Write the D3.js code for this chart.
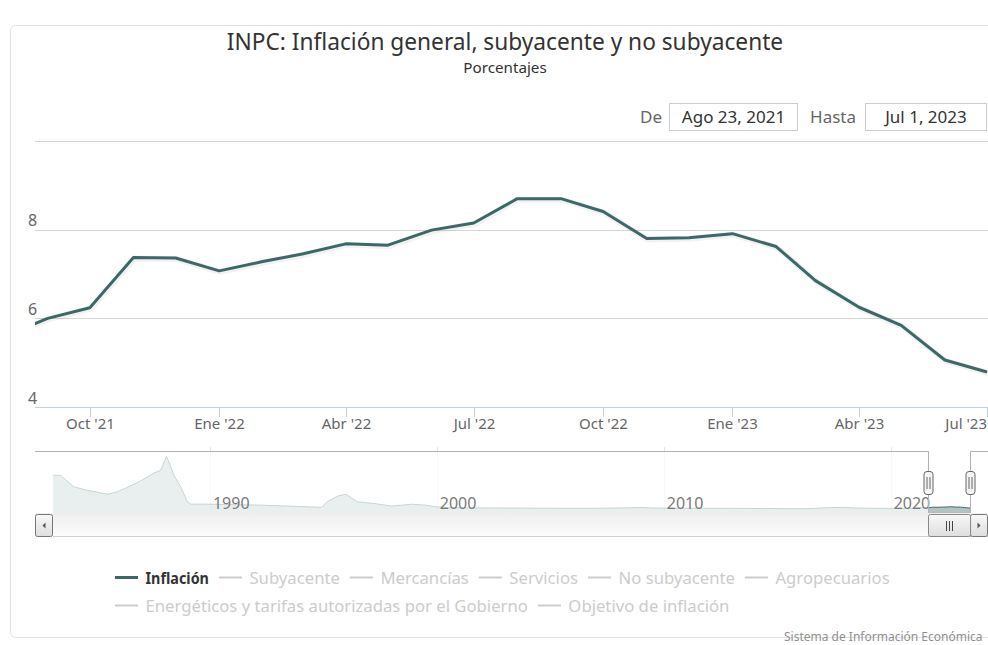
<!DOCTYPE html>
<html>
<head>
<meta charset="utf-8">
<script src="https://cdn.jsdelivr.net/npm/d3@7"></script>
<style>
  body { margin: 0; background: #fff; }
  svg { display: block; font-family: "Noto Sans", sans-serif; }
</style>
</head>
<body>
<div id="chart"></div>
<script>
// INPC: inflación general anual (%), primer día de cada mes
var months = ["2021-08","2021-09","2021-10","2021-11","2021-12",
  "2022-01","2022-02","2022-03","2022-04","2022-05","2022-06",
  "2022-07","2022-08","2022-09","2022-10","2022-11","2022-12",
  "2023-01","2023-02","2023-03","2023-04","2023-05","2023-06","2023-07"];
var inflacion = [5.59, 6.00, 6.24, 7.37, 7.36,
  7.07, 7.28, 7.45, 7.68, 7.65, 7.99,
  8.15, 8.70, 8.70, 8.41, 7.80, 7.82,
  7.91, 7.62, 6.85, 6.25, 5.84, 5.06, 4.79];

// serie histórica del navegador (leída aproximadamente del gráfico)
var navMonths = ["1983-02","1983-06","1984-01","1984-08","1985-07","1985-12",
  "1986-05","1987-01","1987-07","1987-11","1988-02","1988-03","1988-06",
  "1988-10","1989-01","1989-03","1989-12","1992-04","1993-06","1994-12",
  "1995-03","1995-09","1996-01","1996-07","1997-04","1998-01","1998-12",
  "1999-07","1999-12","2000-07","2001-07","2002-07","2004-01","2005-07",
  "2007-01","2008-07","2008-12","2009-07","2010-07","2012-01","2013-07",
  "2015-01","2015-12","2016-07","2017-04","2017-12","2018-07","2019-07",
  "2020-07","2021-01","2021-04","2021-07"];
var navValues = [110, 110, 73, 62, 49, 57,
  70, 94, 116, 126, 171, 158, 110,
  68, 25, 17, 17, 14, 11, 7,
  25, 44, 49, 25, 19, 11, 17,
  14, 9, 6, 5, 5, 4.5, 4,
  4, 5.5, 6.5, 5, 4, 4, 3.5,
  3, 2.5, 3, 6, 6.7, 4.8, 3.8,
  3.5, 3.5, 6, 5.8];

var yTicks = [4, 6, 8, 10];
var monthAbbr = ["Ene","Feb","Mar","Abr","May","Jun","Jul","Ago","Sep","Oct","Nov","Dic"];
var rangeStart = "2021-08-23", rangeEnd = "2023-07-01";

var legendNames = ["Inflación", "Subyacente", "Mercancías", "Servicios", "No subyacente",
  "Agropecuarios", "Energéticos y tarifas autorizadas por el Gobierno", "Objetivo de inflación"];
var legendOn = [true, false, false, false, false, false, false, false];

var titleText = "INPC: Inflación general, subyacente y no subyacente";
var subtitleText = "Porcentajes";
var creditText = "Sistema de Información Económica";

var W = 988, H = 645, centerX = 505;
var serieColor = "#3d6868";
var plot = {left: 35, right: 987, top: 141, bottom: 407};
var nav = {left: 53, right: 970, outerLeft: 35, outerRight: 988, top: 451, bottom: 513};
var sb = {top: 513, bottom: 536, button: 18};

var parseM = d3.timeParse("%Y-%m"), parseD = d3.timeParse("%Y-%m-%d");
var serie = months.map(function(m, i) { return {date: parseM(m), value: inflacion[i]}; });
var navSerie = navMonths.map(function(m, i) { return {date: parseM(m), value: navValues[i]}; })
  .concat(serie);
var d0 = parseD(rangeStart), d1 = parseD(rangeEnd);

function fmtRange(d) { return monthAbbr[d.getMonth()] + " " + d.getDate() + ", " + d.getFullYear(); }
function fmtTick(d) { return monthAbbr[d.getMonth()] + " '" + String(d.getFullYear()).slice(2); }

var svg = d3.select("#chart").append("svg")
    .attr("width", W)
    .attr("height", H);

function label(g, x, y, s, size, color, anchor, weight) {
  return g.append("text")
      .attr("x", x).attr("y", y)
      .attr("font-size", size + "px")
      .attr("fill", color)
      .attr("text-anchor", anchor || "start")
      .attr("font-weight", weight || "normal")
      .text(s);
}

var defs = svg.append("defs");
defs.append("clipPath").attr("id", "plotClip")
  .append("rect")
    .attr("x", plot.left).attr("y", plot.top - 10)
    .attr("width", W - plot.left).attr("height", plot.bottom - plot.top + 20);
var gb = defs.append("linearGradient").attr("id", "btnGrad").attr("x1", 0).attr("y1", 0).attr("x2", 0).attr("y2", 1);
gb.append("stop").attr("offset", "0%").attr("stop-color", "#f8f8f8");
gb.append("stop").attr("offset", "100%").attr("stop-color", "#dedede");
var gt = defs.append("linearGradient").attr("id", "trackGrad").attr("x1", 0).attr("y1", 0).attr("x2", 0).attr("y2", 1);
gt.append("stop").attr("offset", "0%").attr("stop-color", "#eeeeee");
gt.append("stop").attr("offset", "100%").attr("stop-color", "#fcfcfc");

// marco del contenedor
svg.append("rect")
    .attr("x", 10.5).attr("y", 25.5)
    .attr("width", 1000).attr("height", 612)
    .attr("rx", 5)
    .attr("fill", "none")
    .attr("stroke", "#e3e3e3");

// títulos
label(svg, centerX, 50, titleText, 22.7, "#333", "middle");
label(svg, centerX, 73, subtitleText, 15.2, "#333", "middle");

// selector de rango
label(svg, 662, 123, "De", 17, "#666", "end");
svg.append("rect").attr("x", 669.5).attr("y", 103.5).attr("width", 128).attr("height", 27)
    .attr("fill", "#fff").attr("stroke", "#cccccc");
label(svg, 733.5, 123, fmtRange(d0), 17, "#333", "middle");
label(svg, 856, 123, "Hasta", 17, "#666", "end");
svg.append("rect").attr("x", 865.5).attr("y", 103.5).attr("width", 121).attr("height", 27)
    .attr("fill", "#fff").attr("stroke", "#cccccc");
label(svg, 926, 123, fmtRange(d1), 17, "#333", "middle");

// gráfico principal
var xScale = d3.scaleTime().domain([d0, d1]).range([plot.left, plot.right]);
var yScale = d3.scaleLinear().domain([4, 10]).range([plot.bottom, plot.top]);

var grid = svg.append("g");
yTicks.forEach(function(v, i) {
  grid.append("line")
      .attr("x1", plot.left).attr("x2", W)
      .attr("y1", Math.round(yScale(v)) + 0.5).attr("y2", Math.round(yScale(v)) + 0.5)
      .attr("stroke", i === 0 ? "#c0d0e0" : "#d6d6d6");
  if (i < yTicks.length - 1)
    label(grid, 32.5, yScale(v) - 3.5, v, 16, "#666", "middle");
});

var xticks = xScale.ticks(d3.timeMonth.every(3));
xticks.forEach(function(d) {
  var x = Math.round(xScale(d)) + 0.5;
  grid.append("line")
      .attr("x1", x).attr("x2", x)
      .attr("y1", plot.bottom).attr("y2", plot.bottom + 10)
      .attr("stroke", "#c0d0e0");
  var t = label(grid, x, 429, fmtTick(d), 15, "#666", "middle");
  var w = t.node().getComputedTextLength();
  if (x + w / 2 > W - 1) t.attr("x", W - 1 - w / 2);
});

var line = d3.line()
    .x(function(d) { return xScale(d.date); })
    .y(function(d) { return yScale(d.value); });

var lines = svg.append("g").attr("clip-path", "url(#plotClip)");
lines.append("path")
    .attr("d", line(serie))
    .attr("fill", "none")
    .attr("stroke", "#000")
    .attr("stroke-opacity", 0.05)
    .attr("stroke-width", 6)
    .attr("transform", "translate(1,1)");
lines.append("path")
    .attr("d", line(serie))
    .attr("fill", "none")
    .attr("stroke", serieColor)
    .attr("stroke-width", 3)
    .attr("stroke-linejoin", "round");

// navegador
var navX = d3.scaleTime().domain(d3.extent(navSerie, function(d) { return d.date; }))
    .range([nav.left, nav.right]);
var navY = d3.scaleLinear().domain([0, 180]).range([509.5, 453.5]);
var zoneL = navX(d0), zoneR = navX(d1);

var ng = svg.append("g");
var navTicks = navX.ticks(d3.timeYear.every(10));
navTicks.forEach(function(d) {
  var x = Math.round(navX(d)) + 0.5;
  ng.append("line")
      .attr("x1", x).attr("x2", x)
      .attr("y1", nav.top - 4).attr("y2", sb.top + 12)
      .attr("stroke", "#e6e6e6");
});

var area = d3.area()
    .x(function(d) { return navX(d.date); })
    .y0(nav.bottom)
    .y1(function(d) { return navY(d.value); });
var navLine = d3.line()
    .x(function(d) { return navX(d.date); })
    .y(function(d) { return navY(d.value); });

ng.append("path").attr("d", area(navSerie)).attr("fill", serieColor).attr("fill-opacity", 0.4);
ng.append("path").attr("d", navLine(navSerie)).attr("fill", "none")
    .attr("stroke", serieColor).attr("stroke-width", 1);

// máscara fuera de la zona seleccionada
ng.append("rect").attr("x", nav.left).attr("y", nav.top)
    .attr("width", zoneL - nav.left).attr("height", nav.bottom - nav.top)
    .attr("fill", "#fff").attr("fill-opacity", 0.72);
ng.append("rect").attr("x", zoneR).attr("y", nav.top)
    .attr("width", nav.outerRight - zoneR).attr("height", nav.bottom - nav.top)
    .attr("fill", "#fff").attr("fill-opacity", 0.72);

navTicks.forEach(function(d) {
  label(ng, navX(d) + 3, 509, d3.timeFormat("%Y")(d), 16, "#7a7a7a", "start");
});

// contorno
ng.append("path")
    .attr("d", "M" + nav.outerLeft + "," + (nav.top + 0.5) +
      "H" + (Math.round(zoneL) + 0.5) + "V" + nav.bottom +
      "H" + (Math.round(zoneR) + 0.5) + "V" + (nav.top + 0.5) + "H" + nav.outerRight)
    .attr("fill", "none")
    .attr("stroke", "#b2b1b6");

// barra de desplazamiento
var sg = svg.append("g");
sg.append("rect").attr("x", nav.outerLeft).attr("y", sb.top)
    .attr("width", nav.outerRight - nav.outerLeft).attr("height", sb.bottom - sb.top)
    .attr("fill", "url(#trackGrad)");
sg.append("line").attr("x1", nav.left).attr("x2", nav.outerRight)
    .attr("y1", sb.bottom + 0.5).attr("y2", sb.bottom + 0.5).attr("stroke", "#cfcfcf");

function button(x, dir) {
  sg.append("rect").attr("x", x + 0.5).attr("y", sb.top + 1.5)
      .attr("width", sb.button - 1).attr("height", sb.bottom - sb.top - 1)
      .attr("rx", 2)
      .attr("fill", "url(#btnGrad)").attr("stroke", "#777");
  var cx = x + sb.button / 2, cy = (sb.top + sb.bottom) / 2 + 1;
  sg.append("path")
      .attr("d", "M" + (cx + 1.5 * dir) + "," + (cy - 3) + "L" + (cx - 1.5 * dir) + "," + cy +
        "L" + (cx + 1.5 * dir) + "," + (cy + 3) + "Z")
      .attr("fill", "#555");
}
button(nav.outerLeft, 1);
button(nav.right, -1);

sg.append("rect").attr("x", Math.round(zoneL) + 0.5).attr("y", sb.top + 1.5)
    .attr("width", zoneR - zoneL).attr("height", sb.bottom - sb.top - 1)
    .attr("rx", 2)
    .attr("fill", "url(#btnGrad)").attr("stroke", "#888");
[-3, 0, 3].forEach(function(o) {
  var x = Math.round((zoneL + zoneR) / 2) + o + 0.5;
  sg.append("line").attr("x1", x).attr("x2", x)
      .attr("y1", sb.top + 8).attr("y2", sb.bottom - 5).attr("stroke", "#444");
});

// asas
[zoneL, zoneR].forEach(function(z) {
  var x = Math.round(z);
  sg.append("rect").attr("x", x - 4).attr("y", 471.5)
      .attr("width", 9).attr("height", 23).attr("rx", 3)
      .attr("fill", "#f4f4f4").attr("stroke", "#666");
  [-1.5, 1.5].forEach(function(o) {
    sg.append("line").attr("x1", x + 0.5 + o).attr("x2", x + 0.5 + o)
        .attr("y1", 477).attr("y2", 489).attr("stroke", "#666");
  });
});

// leyenda
var lg = svg.append("g");
var symW = 23, symPad = 7.5, itemDist = 10, maxRow = 820, rowH = 28;
var items = legendNames.map(function(n, i) {
  var g = lg.append("g");
  g.append("line").attr("x1", 0).attr("x2", symW).attr("y1", 0).attr("y2", 0)
      .attr("stroke", legendOn[i] ? serieColor : "#cccccc")
      .attr("stroke-width", legendOn[i] ? 3 : 2);
  var t = label(g, symW + symPad, 6, n, 16.7, legendOn[i] ? "#333" : "#cccccc", "start",
    legendOn[i] ? "bold" : "normal");
  var w = t.node().getComputedTextLength();
  if (legendOn[i]) { w = w * 0.86; t.attr("textLength", w).attr("lengthAdjust", "spacingAndGlyphs"); }
  return {g: g, w: symW + symPad + w};
});
var rows = [[]], rowW = [0];
items.forEach(function(it) {
  var r = rows.length - 1;
  var add = (rows[r].length ? itemDist : 0) + it.w;
  if (rows[r].length && rowW[r] + add > maxRow) { rows.push([it]); rowW.push(it.w); }
  else { rows[r].push(it); rowW[r] += add; }
});
var legLeft = 115;
rows.forEach(function(r, ri) {
  var x = legLeft;
  r.forEach(function(it) {
    it.g.attr("transform", "translate(" + x + "," + (577.5 + ri * rowH) + ")");
    x += it.w + itemDist;
  });
});

// créditos
label(svg, 784, 641, creditText, 12, "#909090", "start");
</script>
</body>
</html>
